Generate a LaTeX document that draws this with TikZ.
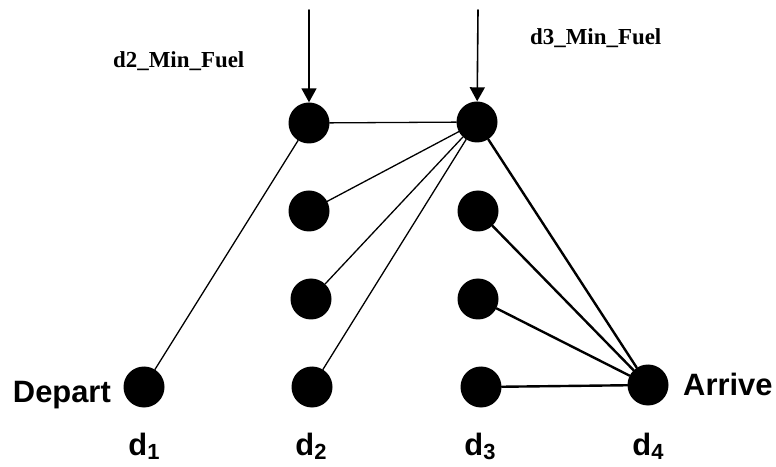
\documentclass[tikz,border=0pt]{standalone}
\usepackage{fontspec}
\setmainfont{Liberation Serif}
\newfontfamily\helv{Liberation Sans}
\usetikzlibrary{arrows.meta}
\newcommand{\dsub}[1]{d\raisebox{-4bp}{\fontsize{22}{22}\selectfont #1}}
\begin{document}
\begin{tikzpicture}[x=1bp, y=-1bp, line join=round, line cap=round,
		>={Triangle[width=15bp,length=14bp]},
		dot/.style={circle, fill=black, minimum size=41bp, inner sep=0pt},
		thinedge/.style={line width=1.3bp},
		thickedge/.style={line width=2.4bp},
		feed/.style={->, line width=1.6bp},
		side/.style={font=\helv\bfseries\fontsize{31}{31}\selectfont, inner sep=0pt},
		fuel/.style={font=\bfseries\fontsize{23}{23}\selectfont, inner sep=0pt}]
	\useasboundingbox (0,0) rectangle (776,467);
	%%%%%%%%%%%%%%%%%%%%%%%%%%%%%%%%%
	\node[dot] (d1) at (144,387) {};
	\node[dot] (a1) at (309,123) {};
	\node[dot] (a2) at (309,211) {};
	\node[dot] (a3) at (311,299) {};
	\node[dot] (a4) at (312,387) {};
	\node[dot] (b1) at (477,122) {};
	\node[dot] (b2) at (478,211) {};
	\node[dot] (b3) at (478,299) {};
	\node[dot] (b4) at (481,387) {};
	\node[dot] (d4) at (648,385) {};
	\coordinate (t2) at (309,10);
	\coordinate (t3) at (478,10);
	%%%%%%%%%%%%%%%%%%%%%%%%%%%%%%%%%
	\draw[feed] (t2) -- (a1);
	\draw[feed] (t3) -- (b1);
	\begin{scope}[thinedge]
		\draw (d1) -- (a1);
		\draw (a1) -- (b1);
		\draw (a2) -- (b1);
		\draw (a3) -- (b1);
		\draw (a4) -- (b1);
	\end{scope}
	\begin{scope}[thickedge]
		\draw (b1) -- (d4);
		\draw (b2) -- (d4);
		\draw (b3) -- (d4);
		\draw (b4) -- (d4);
	\end{scope}
	%%%%%%%%%%%%%%%%%%%%%%%%%%%%%%%%%
	\node[fuel, anchor=base west] (f2) at (113,68) {d2\_Min\_Fuel};
	\node[fuel, anchor=base west] (f3) at (530,45) {d3\_Min\_Fuel};
	\node[side, anchor=base east] (dep) at (111,402) {Depart};
	\node[side, anchor=base west] (arr) at (683,395) {Arrive};
	\node[side, anchor=base] (l1) at (144,455) {\dsub{1}};
	\node[side, anchor=base] (l2) at (311,455) {\dsub{2}};
	\node[side, anchor=base] (l3) at (480,455) {\dsub{3}};
	\node[side, anchor=base] (l4) at (648,455) {\dsub{4}};
	%%%%%%%%%%%%%%%%%%%%%%%%%%%%%%%%%
\end{tikzpicture}
\end{document}
